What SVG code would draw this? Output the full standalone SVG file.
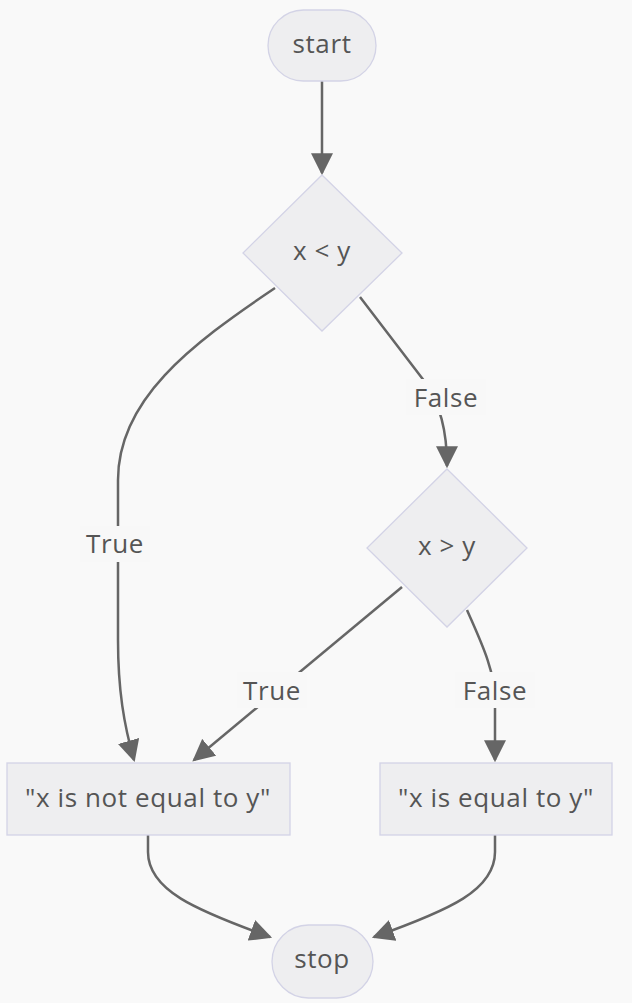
<svg xmlns="http://www.w3.org/2000/svg" width="632" height="1003" viewBox="0 0 632 1003">
<style>
.bg{fill:#f9f9f9}
.node{fill:#eeeef0;stroke:#d3d3e6;stroke-width:1.3}
.t{font-family:"Open Sans","Noto Sans",sans-serif;font-size:26px;letter-spacing:0.6px;fill:#555;text-anchor:middle;dominant-baseline:central}
.e{fill:none;stroke:#666;stroke-width:2.5}
.lbg{fill:#f8f8f8}
</style>
<defs>
<marker id="arr" markerUnits="userSpaceOnUse" markerWidth="22" markerHeight="22" viewBox="0 0 20 20" refX="18" refY="10" orient="auto">
<path d="M0,0 L20,10 L0,20 z" fill="#666"/>
</marker>
</defs>
<rect class="bg" x="0" y="0" width="632" height="1003"/>
<g id="edges">
<path class="e" d="M322,81 L322,173" marker-end="url(#arr)"/>
<path class="e" d="M275,288 C190,345 118,400 118,480 L118,640 C118,690 124,725 134,760" marker-end="url(#arr)"/>
<path class="e" d="M360,297 L425,382 C440,405 447,430 447,466" marker-end="url(#arr)"/>
<path class="e" d="M402,587 L194,760" marker-end="url(#arr)"/>
<path class="e" d="M467,610 C480,640 495,670 495,700 L495,760" marker-end="url(#arr)"/>
<path class="e" d="M148,835 L148,852 C148,890 195,910 270,937" marker-end="url(#arr)"/>
<path class="e" d="M495,835 L495,852 C495,890 450,910 374,937" marker-end="url(#arr)"/>
<g id="edge-labels">
<rect class="lbg" x="80" y="526" width="70" height="36"/>
<text class="t" x="115" y="543">True</text>
<rect class="lbg" x="406" y="379" width="80" height="36"/>
<text class="t" x="446" y="397">False</text>
<rect class="lbg" x="237" y="672" width="70" height="36"/>
<text class="t" x="272" y="690">True</text>
<rect class="lbg" x="455" y="672" width="80" height="36"/>
<text class="t" x="495" y="690">False</text>
</g>
</g>
<g id="start">
<rect class="node" x="268" y="10" width="108" height="71" rx="35.5" ry="35.5"/>
<text class="t" x="322" y="43">start</text>
</g>
<g id="dec1">
<polygon class="node" points="322,175 402,253 322,331 243,253"/>
<text class="t" x="322" y="250">x &lt; y</text>
</g>
<g id="dec2">
<polygon class="node" points="447,469 527,548 447,627 367,548"/>
<text class="t" x="447" y="545">x &gt; y</text>
</g>
<g id="neq">
<rect class="node" x="7" y="763" width="283" height="72"/>
<text class="t" x="148" y="797">"x is not equal to y"</text>
</g>
<g id="eq">
<rect class="node" x="380" y="763" width="232" height="72"/>
<text class="t" x="496" y="797">"x is equal to y"</text>
</g>
<g id="stop">
<rect class="node" x="272" y="925" width="101" height="73" rx="36.5" ry="36.5"/>
<text class="t" x="322" y="958">stop</text>
</g>
</svg>
